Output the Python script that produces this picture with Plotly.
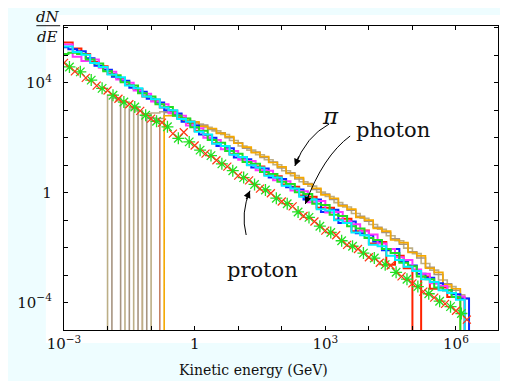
import plotly.graph_objects as go

# ---------------- data (log10 of dN/dE per bin; None = empty bin) ----------------
edges_a_log10 = [-3.0, -2.8, -2.6, -2.4, -2.2, -2.0, -1.8, -1.6, -1.4, -1.2, -1.0, -0.8,
                 -0.6, -0.4, -0.2, 0.0, 0.2, 0.4, 0.6, 0.8, 1.0, 1.2, 1.4, 1.6, 1.8, 2.0,
                 2.2, 2.4, 2.6, 2.8, 3.0, 3.2, 3.4, 3.6, 3.8, 4.0, 4.2, 4.4, 4.6, 4.8, 5.0,
                 5.2, 5.4, 5.6, 5.8, 6.0, 6.2, 6.4]
edges_b_log10 = [-3.1, -2.9, -2.7, -2.5, -2.3, -2.1, -1.9, -1.7, -1.5, -1.3, -1.1, -0.9,
                 -0.7, -0.5, -0.3, -0.1, 0.1, 0.3, 0.5, 0.7, 0.9, 1.1, 1.3, 1.5, 1.7, 1.9,
                 2.1, 2.3, 2.5, 2.7, 2.9, 3.1, 3.3, 3.5, 3.7, 3.9, 4.1, 4.3, 4.5, 4.7, 4.9,
                 5.1, 5.3, 5.5, 5.7, 5.9, 6.1, 6.3]

photon_red_log10 = [5.47, 5.25, 5.05, 4.76, 4.60, 4.32, 4.18, 3.92, 3.78, 3.50, 3.38, 3.10,
                    2.98, 2.70, 2.55, 2.25, 2.10, 1.80, 1.70, 1.40, 1.30, 1.02, 0.95, 0.65,
                    0.60, 0.30, 0.22, -0.10, -0.15, -0.55, -0.55, -0.98, -0.95, -1.40, -1.38,
                    -1.85, -1.80, -2.62, -2.30, -2.75, None, -3.05, -3.50, -3.45, -3.80, -3.85]
photon_blue_log10 = [5.30, 5.22, 5.15, 4.90, 4.62, 4.48, 4.22, 4.08, 3.82, 3.68, 3.42, 3.28,
                     3.00, 2.88, 2.58, 2.45, 2.12, 2.00, 1.70, 1.62, 1.28, 1.22, 0.92, 0.88,
                     0.55, 0.50, 0.20, 0.12, -0.25, -0.25, -0.70, -0.62, -1.10, -1.05, -1.48,
                     -1.55, -1.78, -2.10, -2.05, -2.50, -2.65, -2.95, -3.10, -3.30, -3.55,
                     -3.70, -3.85]
photon_magenta_log10 = [5.40, 4.95, 4.80, 4.85, 4.55, 4.40, 4.12, 4.00, 3.72, 3.60, 3.32, 3.22,
                        2.90, 2.80, 2.45, 2.35, 2.00, 1.92, 1.58, 1.52, 1.20, 1.15, 0.82, 0.80,
                        0.45, 0.42, 0.08, 0.05, -0.35, -0.30, -0.72, -0.70, -1.05, -1.15, -1.40,
                        -1.52, -1.85, -2.05, -2.35, -2.45, -2.80, -2.95, -3.30, -3.40, -3.65,
                        -3.78]
photon_green_log10 = [5.05, 5.10, 5.05, 4.85, 4.70, 4.42, 4.28, 4.02, 3.90, 3.62, 3.50, 3.22,
                      3.12, 2.80, 2.70, 2.38, 2.26, 1.92, 1.82, 1.52, 1.42, 1.12, 1.05, 0.75,
                      0.68, 0.40, 0.32, 0.02, -0.05, -0.40, -0.45, -0.80, -0.85, -1.22, -1.30,
                      -1.65, -1.72, -2.05, -2.20, -2.55, -2.68, -3.05, -3.15, -3.45, -3.55,
                      -3.80]
photon_cyan_log10 = [5.32, 5.12, 5.02, 4.72, 4.58, 4.30, 4.20, 3.90, 3.80, 3.50, 3.40, 3.10,
                     3.00, 2.68, 2.58, 2.22, 2.12, 1.78, 1.70, 1.38, 1.30, 1.00, 0.92, 0.62,
                     0.55, 0.25, 0.15, -0.15, -0.25, -0.60, -0.65, -1.00, -1.10, -1.45, -1.55,
                     -1.90, -1.95, -2.30, -2.45, -2.70, -2.85, -3.15, -3.25, -3.55, -3.65,
                     -3.90]

pi_tan_log10 = [None, None, None, None, None, 3.55, 3.35, None, 2.98, None, 2.90, 2.95,
                2.88, 2.72, 2.62, 2.50, 2.38, 2.25, 2.12, 1.90, 1.70, 1.55, 1.38, 1.20,
                1.02, 0.80, 0.62, 0.40, 0.24, 0.02, -0.14, -0.36, -0.52, -0.76, -0.93,
                -1.16, -1.33, -1.57, -1.75, -2.02, -2.22, -2.58, -2.82, -3.18, -3.42, -3.72]
pi_gray_log10 = [None, None, None, None, None, None, 3.45, None, 3.05, None, 2.72, 2.70,
                 2.92, 2.80, 2.70, 2.55, 2.46, 2.30, 2.18, 2.00, 1.82, 1.62, 1.48, 1.28,
                 1.12, 0.90, 0.72, 0.50, 0.33, 0.12, -0.05, -0.25, -0.45, -0.64, -0.86,
                 -1.04, -1.26, -1.45, -1.68, -1.88, -2.15, -2.38, -2.72, -2.98, -3.32,
                 -3.55, -3.85]
pi_orange_log10 = [None, None, None, None, None, None, None, None, None, None, None, None,
                   2.80, 2.86, 2.64, 2.58, 2.42, 2.34, 2.16, 2.04, 1.80, 1.66, 1.46, 1.32,
                   1.10, 0.94, 0.70, 0.55, 0.31, 0.16, -0.08, -0.20, -0.48, -0.60, -0.90,
                   -1.00, -1.30, -1.40, -1.72, -1.82, -2.18, -2.30, -2.75, -2.90, -3.35, -3.50]
pi_brown_log10 = [None, None, None, None, None, None, None, None, None, 2.88, 2.62, None]

proton_x_log10 = [-3.0, -2.75, -2.5, -2.25, -2.0, -1.75, -1.5, -1.25, -1.0, -0.75, -0.5,
                  -0.25, 0.0, 0.25, 0.5, 0.75, 1.0, 1.25, 1.5, 1.75, 2.0, 2.25, 2.5, 2.75,
                  3.0, 3.25, 3.5, 3.75, 4.0, 4.25, 4.5, 4.75, 5.0, 5.25, 5.5, 5.75, 6.0, 6.25]
proton_x_vals_log10 = [4.73, 4.42, 4.18, 3.90, 3.72, 3.42, 3.22, 2.98, 2.70, 2.55, 2.15,
                       2.20, 1.72, 1.42, 1.18, 0.95, 0.62, 0.45, 0.15, -0.02, -0.32, -0.50,
                       -0.85, -1.05, -1.38, -1.55, -1.90, -2.05, -2.35, -2.55, -2.65, -3.05,
                       -3.30, -3.60, -3.82, -4.05, -4.30, -4.62]
proton_star_log10 = [-2.875, -2.625, -2.375, -2.125, -1.875, -1.625, -1.375, -1.125, -0.875,
                     -0.625, -0.375, -0.125, 0.125, 0.375, 0.625, 0.875, 1.125, 1.375, 1.625,
                     1.875, 2.125, 2.375, 2.625, 2.875, 3.125, 3.375, 3.625, 3.875, 4.125,
                     4.375, 4.625, 4.875, 5.125, 5.375, 5.625, 5.875, 6.125]
proton_star_vals_log10 = [4.58, 4.40, 4.10, 3.80, 3.55, 3.30, 3.12, 2.82, 2.60, 2.40, 1.98,
                          1.85, 1.55, 1.35, 1.05, 0.80, 0.55, 0.30, 0.10, -0.20, -0.40, -0.70,
                          -0.90, -1.22, -1.45, -1.75, -1.95, -2.20, -2.38, -2.62, -2.90, -3.15,
                          -3.42, -3.68, -3.95, -4.15, -4.40]

x_label_exp = [-3, 0, 3, 6]
x_label_text = ["10<sup>\u22123</sup>", "1", "10<sup>3</sup>", "10<sup>6</sup>"]
x_minor_exp = [-2, -1, 1, 2, 4, 5, 7]
y_label_exp = [-4, 0, 4]
y_label_text = ["10<sup>\u22124</sup>", "1", "10<sup>4</sup>"]
y_minor_exp = [-5, -3, -2, -1, 1, 2, 3, 5, 6]

# ---------------- figure ----------------
# The page body has an 8px margin, so the figure sits at (8, 8) in the window.
OFF = 8
WIN_W, WIN_H = 508, 381
W, H = WIN_W - OFF, WIN_H - OFF
# plot area in window pixels: x 44..499, y 26..330
PL, PR, PT, PB = 44, 499, 26, 330
ML, MR, MT, MB = PL - OFF, W - (PR - OFF), PT - OFF, H - (PB - OFF)
PW, PH = PR - PL, PB - PT
FLOOR = 1e-12
FONT = "DejaVu Serif"


def px(xw):
    return (xw - PL) / PW


def py(yw):
    return (PB - yw) / PH


def step_trace(edges, vals, color, width):
    n = len(vals)
    xs = [10 ** e for e in edges[:n + 1]]
    ys = [10 ** v if v is not None else FLOOR for v in vals] + [FLOOR]
    return go.Scatter(x=xs, y=ys, mode="lines", line=dict(shape="hv", color=color, width=width),
                      hoverinfo="skip", showlegend=False)


fig = go.Figure()
fig.add_trace(step_trace(edges_a_log10, pi_brown_log10, "#BE7050", 1.4))
fig.add_trace(step_trace(edges_a_log10, pi_tan_log10, "#BCAE86", 1.6))
fig.add_trace(step_trace(edges_b_log10, pi_gray_log10, "#A69480", 1.6))
fig.add_trace(step_trace(edges_b_log10, pi_orange_log10, "#F5A800", 1.6))
fig.add_trace(step_trace(edges_a_log10, photon_red_log10, "#FF2200", 2))
fig.add_trace(step_trace(edges_b_log10, photon_blue_log10, "#0A28FF", 2))
fig.add_trace(step_trace(edges_a_log10, photon_magenta_log10, "#FF33FF", 2))
fig.add_trace(step_trace(edges_b_log10, photon_green_log10, "#22DD22", 2))
fig.add_trace(step_trace(edges_a_log10, photon_cyan_log10, "#00F0FF", 2))

fig.add_trace(go.Scatter(x=[10 ** v for v in proton_star_log10],
                         y=[10 ** v for v in proton_star_vals_log10], mode="markers",
                         marker=dict(symbol="asterisk-open", size=10, color="#22E022",
                                     line=dict(width=1.3, color="#22E022")),
                         hoverinfo="skip", showlegend=False))
fig.add_trace(go.Scatter(x=[10 ** v for v in proton_x_log10],
                         y=[10 ** v for v in proton_x_vals_log10], mode="markers",
                         marker=dict(symbol="x-thin-open", size=8, color="#FF3311",
                                     line=dict(width=1.2, color="#FF3311")),
                         hoverinfo="skip", showlegend=False))

axis_common = dict(type="log", showgrid=False, zeroline=False, showline=True,
                   linecolor="black", linewidth=1.3, mirror="ticks", ticks="inside",
                   ticklen=4, tickwidth=1, tickcolor="black",
                   tickfont=dict(family=FONT, size=15, color="#111"))
minor_common = dict(ticks="inside", ticklen=4, tickwidth=1, tickcolor="black", showgrid=False)
fig.update_xaxes(range=[-3, 6.965], tickvals=[10 ** e for e in x_label_exp],
                 ticktext=x_label_text,
                 minor=dict(tickvals=[10 ** e for e in x_minor_exp], **minor_common),
                 **axis_common)
fig.update_yaxes(range=[-5, 6.07], tickvals=[10 ** e for e in y_label_exp],
                 ticktext=y_label_text, ticklabelstandoff=8,
                 minor=dict(tickvals=[10 ** e for e in y_minor_exp], **minor_common),
                 **axis_common)

shapes = [
    dict(type="rect", xref="paper", yref="paper", x0=px(25), x1=px(WIN_W + 10), y0=py(343), y1=py(15),
         fillcolor="white", line=dict(width=0), layer="below"),
    dict(type="line", xref="paper", yref="paper", x0=px(15), x1=px(40), y0=py(25.7), y1=py(25.7),
         line=dict(color="#111", width=1)),
]


def curve(p0, c, p1):
    return dict(type="path", xref="paper", yref="paper",
                path=f"M {px(p0[0])} {py(p0[1])} Q {px(c[0])} {py(c[1])} {px(p1[0])} {py(p1[1])}",
                line=dict(color="black", width=1))


shapes.append(curve((322, 124), (298, 136), (286, 166)))
shapes.append(curve((344, 136), (315.5, 156), (297, 204)))
shapes.append(curve((235, 235), (229, 213), (239, 190.7)))
fig.update_layout(shapes=shapes)

ann = []


def text(xw, yw, s, size, italic=False):
    ann.append(dict(xref="paper", yref="paper", x=px(xw), y=py(yw), text=(f"<i>{s}</i>" if italic else s),
                    showarrow=False, xanchor="center", yanchor="middle",
                    font=dict(family=FONT, size=size, color="#111")))


def head(tip, ax, ay):
    ann.append(dict(xref="paper", yref="paper", x=px(tip[0]), y=py(tip[1]), text="",
                    showarrow=True, arrowhead=2, arrowsize=1.3, arrowwidth=1.1,
                    arrowcolor="black", ax=ax, ay=ay, axref="pixel", ayref="pixel"))


text(323, 116, "\u03c0", 23, italic=True)
text(389, 130, "photon", 21)
text(252, 270, "proton", 21)
text(243, 370, "Kinetic energy (GeV)", 14)
text(27, 16.5, "dN", 15, italic=True)
text(27, 37, "dE", 15, italic=True)
head((286, 166), 4.5, -11)
head((297, 204), 4.2, -11)
head((239, 190.7), -4.5, 10)
fig.update_layout(annotations=ann)

fig.update_layout(width=W, height=H, margin=dict(l=ML, r=MR, t=MT, b=MB, pad=0),
                  paper_bgcolor="#EEFDFF", plot_bgcolor="white", showlegend=False)

fig.write_html("out.html")
